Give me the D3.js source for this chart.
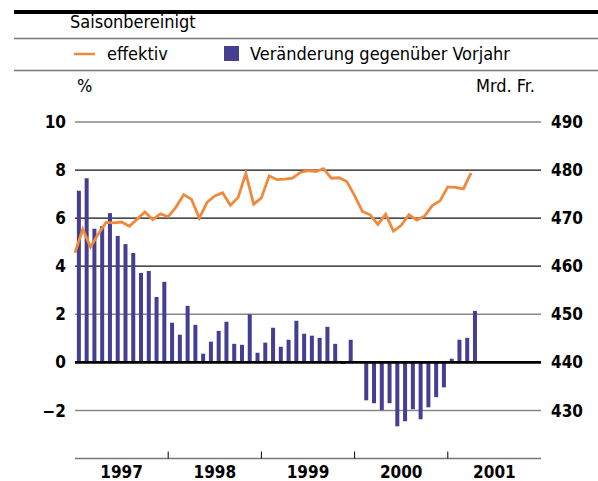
<!DOCTYPE html>
<meta charset="utf-8">
<style type="text/css">
  body { margin: 0; background: white; }
  text { font-family: 'DejaVu Sans Condensed', 'Liberation Sans Narrow', 'DejaVu Sans', sans-serif; }
</style>
<script src="https://d3js.org/d3.v7.min.js"></script>
<div id="chart"></div>
<script>

// chart data, monthly from Jan 1997
var years = ["1997", "1998", "1999", "2000", "2001"];

// Veränderung gegenüber Vorjahr, in % (left axis)
var change = [
  7.14, 7.66, 5.56, 5.67, 6.21, 5.26, 4.92, 4.55, 3.72, 3.80, 2.72, 3.35,
  1.65, 1.15, 2.35, 1.56, 0.36, 0.86, 1.31, 1.69, 0.77, 0.73, 2.00, 0.40,
  0.82, 1.44, 0.65, 0.94, 1.73, 1.19, 1.11, 1.02, 1.48, 0.77, -0.07, 0.94,
  0.00, -1.58, -1.70, -1.99, -1.70, -2.66, -2.45, -1.95, -2.37, -1.87, -1.45, -1.04,
  0.15, 0.94, 1.02, 2.14
];

// effektiv, in Mrd. Fr. (right axis)
var effektiv = [
  462.8, 467.7, 464.0, 466.7, 469.1, 469.0, 469.2, 468.3, 469.8, 471.3, 469.7, 470.9,
  470.3, 472.3, 474.9, 473.9, 470.0, 473.3, 474.6, 475.3, 472.7, 474.3, 479.3, 472.9,
  474.2, 478.8, 478.0, 478.1, 478.3, 479.5, 479.9, 479.7, 480.3, 478.3, 478.4, 477.6,
  474.7, 471.4, 470.7, 468.7, 470.8, 467.3, 468.5, 470.7, 469.6, 470.4, 472.6, 473.6,
  476.5, 476.4, 476.1, 479.4
];

var leftTicks = [10, 8, 6, 4, 2, 0, -2];
var rightTicks = [490, 480, 470, 460, 450, 440, 430];

var width = 598, height = 481;
var orange = "#ef8a3c", blue = "#463f91";

var svg = d3.select("#chart").append("svg")
  .attr("width", width)
  .attr("height", height);

// scales
var x = d3.scaleLinear().domain([0, 60]).range([75, 541]);
var yL = d3.scaleLinear().domain([-4, 10]).range([458.5, 122]);
var yR = d3.scaleLinear().domain([420, 490]).range([458.5, 122]);

// header
svg.append("rect").attr("x", 14).attr("y", 10).attr("width", width - 14).attr("height", 4).attr("fill", "#000");
svg.append("text").attr("x", 70).attr("y", 28).attr("font-size", 18).text("Saisonbereinigt");
svg.append("line").attr("x1", 14).attr("x2", width).attr("y1", 38.5).attr("y2", 38.5)
  .attr("stroke", "#777").attr("stroke-width", 1.5);

// legend
svg.append("line").attr("x1", 74).attr("x2", 95).attr("y1", 54).attr("y2", 54)
  .attr("stroke", orange).attr("stroke-width", 2.5);
svg.append("text").attr("x", 107).attr("y", 60).attr("font-size", 18).text("effektiv");
svg.append("rect").attr("x", 224).attr("y", 46).attr("width", 15).attr("height", 15).attr("fill", blue);
svg.append("text").attr("x", 250).attr("y", 60).attr("font-size", 18).text("Veränderung gegenüber Vorjahr");
svg.append("line").attr("x1", 14).attr("x2", width).attr("y1", 70.5).attr("y2", 70.5)
  .attr("stroke", "#777").attr("stroke-width", 1.5);

svg.append("text").attr("x", 77).attr("y", 92).attr("font-size", 18).text("%");
svg.append("text").attr("x", 535).attr("y", 92).attr("font-size", 18)
  .attr("text-anchor", "end").text("Mrd. Fr.");

// gridlines
svg.append("g").selectAll("line")
  .data(leftTicks.filter(function(d) { return d != 0; }))
  .enter().append("line")
    .attr("x1", x(0)).attr("x2", x(60))
    .attr("y1", function(d) { return yL(d); })
    .attr("y2", function(d) { return yL(d); })
    .attr("stroke", function(d) { return (d >= 4 && d <= 8) ? "#111" : "#888"; })
    .attr("stroke-width", function(d) { return (d >= 4 && d <= 8) ? 1.2 : 1.6; });

// bars
var bw = 4;
svg.append("g").selectAll("rect")
  .data(change)
  .enter().append("rect")
    .attr("x", function(d, i) { return x(i + 0.5) - bw / 2; })
    .attr("y", function(d) { return yL(Math.max(0, d)); })
    .attr("width", bw)
    .attr("height", function(d) { return Math.abs(yL(d) - yL(0)); })
    .attr("fill", blue);

// zero line
svg.append("line").attr("x1", x(0)).attr("x2", x(60)).attr("y1", yL(0)).attr("y2", yL(0))
  .attr("stroke", "#000").attr("stroke-width", 2.6);

// effektiv line
var line = d3.line()
  .x(function(d, i) { return x(i); })
  .y(function(d) { return yR(d); });
svg.append("path").datum(effektiv)
  .attr("d", line)
  .attr("fill", "none")
  .attr("stroke", orange)
  .attr("stroke-width", 2.8)
  .attr("stroke-linejoin", "miter");

// left axis labels
svg.append("g").selectAll("text")
  .data(leftTicks)
  .enter().append("text")
    .attr("x", 66)
    .attr("y", function(d) { return yL(d); })
    .attr("dy", "0.36em")
    .attr("text-anchor", "end")
    .attr("font-size", 17).attr("font-weight", "bold")
    .text(function(d) { return d < 0 ? "\u2212" + Math.abs(d) : d; });

// right axis labels
svg.append("g").selectAll("text")
  .data(rightTicks)
  .enter().append("text")
    .attr("x", 551)
    .attr("y", function(d) { return yR(d); })
    .attr("dy", "0.36em")
    .attr("font-size", 17).attr("font-weight", "bold")
    .text(function(d) { return d; });

// x axis
svg.append("line").attr("x1", x(0)).attr("x2", x(60)).attr("y1", yL(-4)).attr("y2", yL(-4))
  .attr("stroke", "#777").attr("stroke-width", 1.6);
svg.append("g").selectAll("line")
  .data([12, 24, 36, 48])
  .enter().append("line")
    .attr("x1", function(d) { return x(d); }).attr("x2", function(d) { return x(d); })
    .attr("y1", yL(-4) - 7).attr("y2", yL(-4))
    .attr("stroke", "#000").attr("stroke-width", 1);
svg.append("g").selectAll("text")
  .data(years)
  .enter().append("text")
    .attr("x", function(d, i) { return x(i * 12 + 6); })
    .attr("y", 478)
    .attr("text-anchor", "middle")
    .attr("font-size", 17).attr("font-weight", "bold")
    .text(function(d) { return d; });

</script>
